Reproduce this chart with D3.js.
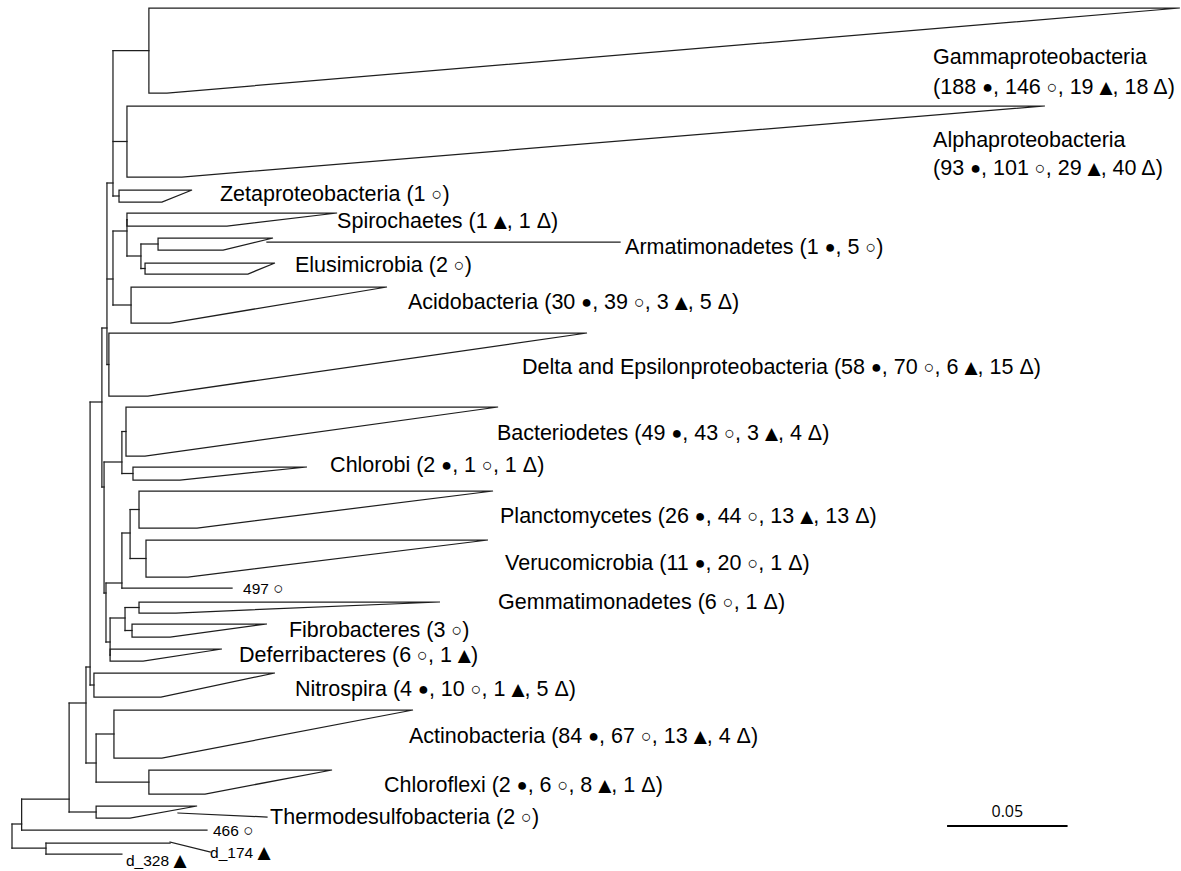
<!DOCTYPE html>
<html><head><meta charset="utf-8">
<script src="https://cdn.jsdelivr.net/npm/d3@7"></script>
<style>html,body{margin:0;padding:0;background:#fff;} svg{display:block;}</style>
</head><body>
<svg id="chart" width="1181" height="871"></svg>
<script>
// ================= DATA =================
const countSymbols = ["●", "○", "▲", "Δ"];

// internal nodes of the tree: id, parent, depth (substitutions/site from the root)
const nodeIds     = ["root","A","B","C","NB","NAC","NA","N3","N2","Nproteo","NSA","NSG","NAE","N4","NBC","N5","NPV","PV","N6","NGF"];
const nodeParents = [null,"root","root","A","C","NB","NB","NA","N3","N2","N2","NSA","NSG","N3","N4","N4","N5","NPV","N5","N6"];
const nodeDepths  = [0,0.0040,0.0141,0.0237,0.0307,0.0349,0.0324,0.0373,0.0394,0.0419,0.0419,0.0477,0.0535,0.0382,0.0456,0.0390,0.0456,0.0490,0.0407,0.0469];

// collapsed clades
const cladeNames = ["Gammaproteobacteria","Alphaproteobacteria","Zetaproteobacteria","Spirochaetes","Armatimonadetes","Elusimicrobia","Acidobacteria","Delta and Epsilonproteobacteria","Bacteriodetes","Chlorobi","Planctomycetes","Verucomicrobia","Gemmatimonadetes","Fibrobacteres","Deferribacteres","Nitrospira","Actinobacteria","Chloroflexi","Thermodesulfobacteria"];
const cladeParents = ["Nproteo","Nproteo","Nproteo","NSG","NAE","NAE","NSA","N2","NBC","NBC","PV","PV","NGF","NGF","N6","NA","NAC","NAC","C"];
const cladeNodeDepth = [0.0568,0.0477,0.0444,0.0477,0.0606,0.0552,0.0494,0.0402,0.0473,0.0502,0.0527,0.0556,0.0527,0.0498,0.0407,0.0340,0.0423,0.0568,0.0349];
const cladeMinDepth  = [0.0643,0.0705,0.0622,0.0892,0.0876,0.0979,0.0656,0.0564,0.0552,0.0697,0.0768,0.0730,0.0680,0.0656,0.0544,0.0618,0.0622,0.0801,0.0490];
const cladeMaxDepth  = [0.4846,0.4286,0.0747,0.1349,0.1083,0.1091,0.1556,0.2386,0.2017,0.1224,0.1996,0.1975,0.1776,0.1058,0.0871,0.1091,0.1664,0.1328,0.0768];
// counts of  ● ○ ▲ Δ  per clade
const cladeCounts = [
  [188,146,19,18],[93,101,29,40],[0,1,0,0],[0,0,1,1],[1,5,0,0],[0,2,0,0],[30,39,3,5],
  [58,70,6,15],[49,43,3,4],[2,1,0,1],[26,44,13,13],[11,20,0,1],[0,6,0,1],[0,3,0,0],
  [0,6,1,0],[4,10,1,5],[84,67,13,4],[2,6,8,1],[0,2,0,0]
];

// single sequences
const tipNames   = ["466","d_174","d_328","497"];
const tipSymbol  = ["○","▲","▲","○"];
const tipParents = ["A","B","B","NPV"];
const tipDepths  = [0.0809,0.0656,0.0456,0.0913];

const scaleBarLength = 0.05;

// ================= LAYOUT =================
const nodeRows = {A:824,B:848,C:799,NB:703,NAC:763,NA:667,N3:402,N2:328,Nproteo:183,NSA:279,NSG:231,NAE:256,N4:487,NBC:462,N5:593,NPV:583,PV:533,N6:642,NGF:618};
const cladeRows = [[8,93],[106,177],[190,202],[213,226],[238,250],[263,274],[287,323],[333,396],[407,456],[467,480],[491,528],[540,577],[602,613],[624,637],[649,661],[673,697],[710,758],[770,794],[806,818]];
const tipRows = [830,843,854,588];
// label anchor: [depth, row] ; two-line labels give a second row for the counts
const cladeLabelPos = [[0.3822,57,87],[0.3822,140,168],[0.0863,194],[0.1349,221],[0.2544,247],[0.1174,265],[0.1643,302],[0.2116,367],[0.2012,433],[0.1320,465],[0.2025,516],[0.2046,563],[0.2017,602],[0.1149,630],[0.0942,655],[0.1174,689],[0.1647,736],[0.1544,785],[0.1071,817]];
const tipLabelPos = [[0.0834,830],[0.0822,852],[0.0473,860],[0.0959,588]];
// leader lines [depth1,row1,depth2,row2]
const leaders = [[0.1058,242,0.2523,242],[0.0689,813,0.1058,817],[0.0656,842,0.0822,852]];
const scaleBarPos = [0.3880, 826, 811];

// ================= DRAW =================
const svg = d3.select("#chart");
const x = d3.scaleLinear().domain([0, scaleBarLength]).range([12, 132.5]);
const y = d3.scaleLinear().domain([0, 871]).range([0, 871]);
const stroke = "#1e1e1e", sw = 1.25;
const font = "'Liberation Sans', Arial, sans-serif";
const labelSize = 21.5;
const symStyle = {"●":{size:18,fam:font},"○":{size:18,fam:font},"▲":{size:17,fam:"'DejaVu Sans', sans-serif"},"Δ":{size:labelSize,fam:font}};

const depthOf = {}; nodeIds.forEach((id,i)=>depthOf[id]=nodeDepths[i]);
const childRows = {}; nodeIds.forEach(id=>childRows[id]=[]);
nodeIds.forEach((id,i)=>{ if(nodeParents[i]) childRows[nodeParents[i]].push(nodeRows[id]); });
cladeNames.forEach((n,i)=>childRows[cladeParents[i]].push((cladeRows[i][0]+cladeRows[i][1])/2));
tipNames.forEach((n,i)=>childRows[tipParents[i]].push(tipRows[i]));

const g = svg.append("g").attr("fill","none").attr("stroke",stroke).attr("stroke-width",sw).attr("stroke-linecap","square");

nodeIds.forEach(id=>{
  const rows = childRows[id].slice(); if(nodeRows[id]!==undefined) rows.push(nodeRows[id]);
  g.append("line").attr("x1",x(depthOf[id])).attr("x2",x(depthOf[id]))
   .attr("y1",y(d3.min(rows))).attr("y2",y(d3.max(rows)));
});
nodeIds.forEach((id,i)=>{
  if(!nodeParents[i]) return;
  g.append("line").attr("x1",x(depthOf[nodeParents[i]])).attr("x2",x(depthOf[id]))
   .attr("y1",y(nodeRows[id])).attr("y2",y(nodeRows[id]));
});
cladeNames.forEach((n,i)=>{
  const [t,b] = cladeRows[i]; const mid=(t+b)/2;
  g.append("line").attr("x1",x(depthOf[cladeParents[i]])).attr("x2",x(cladeNodeDepth[i]))
   .attr("y1",y(mid)).attr("y2",y(mid));
  const p = d3.path();
  p.moveTo(x(cladeNodeDepth[i]),y(t)); p.lineTo(x(cladeMaxDepth[i]),y(t));
  p.lineTo(x(cladeMinDepth[i]),y(b)); p.lineTo(x(cladeNodeDepth[i]),y(b)); p.closePath();
  g.append("path").attr("d",p.toString()).attr("stroke-linejoin","miter");
});
tipNames.forEach((n,i)=>{
  g.append("line").attr("x1",x(depthOf[tipParents[i]])).attr("x2",x(tipDepths[i]))
   .attr("y1",y(tipRows[i])).attr("y2",y(tipRows[i]));
});
leaders.forEach(l=>{
  g.append("line").attr("x1",x(l[0])).attr("y1",y(l[1])).attr("x2",x(l[2])).attr("y2",y(l[3]));
});

// labels
const tg = svg.append("g").attr("font-family",font).attr("fill","#000").attr("dominant-baseline","central");
function addSym(t, s){
  const st = symStyle[s];
  t.append("tspan").attr("font-size",st.size).attr("font-family",st.fam).text(s);
}
function addCounts(t, c){
  const parts=[]; c.forEach((v,k)=>{ if(v>0) parts.push([v,countSymbols[k]]); });
  t.append("tspan").text("(");
  parts.forEach((p,j)=>{
    t.append("tspan").text(p[0]+" ");
    addSym(t,p[1]);
    t.append("tspan").text(j<parts.length-1?", ":")");
  });
}
cladeNames.forEach((n,i)=>{
  const pos = cladeLabelPos[i];
  if(pos.length===3){
    tg.append("text").attr("x",x(pos[0])).attr("y",y(pos[1])).attr("font-size",labelSize).text(n);
    const t=tg.append("text").attr("x",x(pos[0])).attr("y",y(pos[2])).attr("font-size",labelSize);
    addCounts(t,cladeCounts[i]);
  } else {
    const t=tg.append("text").attr("x",x(pos[0])).attr("y",y(pos[1])).attr("font-size",labelSize);
    t.append("tspan").text(n+" ");
    addCounts(t,cladeCounts[i]);
  }
});
tipNames.forEach((n,i)=>{
  const t=tg.append("text").attr("x",x(tipLabelPos[i][0])).attr("y",y(tipLabelPos[i][1])).attr("font-size",15.5);
  t.append("tspan").text(n+" ");
  const s=tipSymbol[i];
  t.append("tspan").attr("font-size", s==="▲"?17:17).attr("font-family",symStyle[s].fam).text(s);
});

// scale bar
svg.append("line").attr("x1",x(scaleBarPos[0])).attr("x2",x(scaleBarPos[0])+x(scaleBarLength)-x(0))
  .attr("y1",y(scaleBarPos[1])).attr("y2",y(scaleBarPos[1])).attr("stroke","#000").attr("stroke-width",2);
svg.append("text").attr("x",x(scaleBarPos[0])+(x(scaleBarLength)-x(0))/2).attr("y",y(scaleBarPos[2]))
  .attr("text-anchor","middle").attr("dominant-baseline","central").attr("font-family","'Open Sans', sans-serif")
  .attr("font-size",16).text(scaleBarLength.toFixed(2));
</script>
</body></html>
